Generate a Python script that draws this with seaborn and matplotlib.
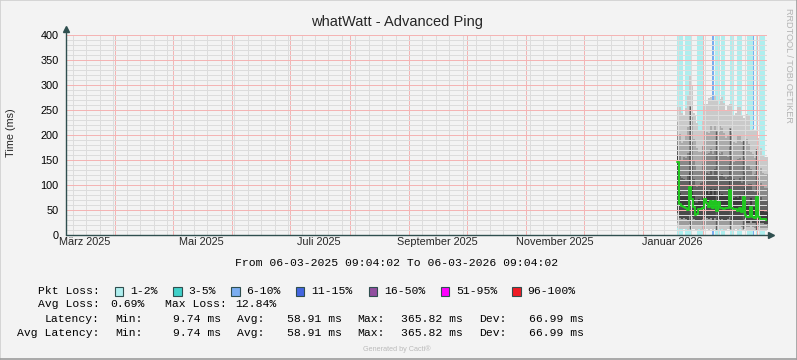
import numpy as np
import pandas as pd
import matplotlib
matplotlib.use("Agg")
import matplotlib.pyplot as plt
import matplotlib.dates as mdates
from matplotlib.ticker import MultipleLocator, NullFormatter
from matplotlib.patches import Rectangle
from matplotlib.lines import Line2D
import seaborn as sns

sns.set_style("white")
plt.rcParams['font.family'] = ['Liberation Sans', 'DejaVu Sans']

W, H = 797, 360
BG = '#F3F3F3'
AXC = '#2F4F4F'

t_start = pd.Timestamp('2025-03-06 09:04:02')
t_end = pd.Timestamp('2026-03-06 09:04:02')
first_sample = pd.Timestamp('2026-01-18 16:00')

# daily smokeping values (ms)
median = [146, 62, 58, 57, 55, 50, 97, 72, 56, 40, 42, 53, 52, 55, 72, 64, 56, 68, 55, 68,
          49, 66, 55, 55, 52, 54, 55, 90, 55, 52, 53, 49, 54, 46, 76, 40, 37, 36, 56, 36,
          35, 76, 36, 33, 33, 32, 31, 32]
smoke_top = [257, 257, 245, 240, 255, 280, 320, 300, 245, 240, 225, 210, 210, 230, 262, 263, 275, 277, 270, 280,
             270, 262, 272, 277, 265, 250, 258, 263, 262, 240, 245, 257, 257, 240, 235, 245, 243, 240, 210, 212,
             210, 210, 195, 175, 160, 157, 157, 157]
smoke_up4 = [226, 202, 185, 189, 199, 216, 258, 236, 192, 190, 174, 166, 166, 181, 209, 207, 205, 218, 210, 221,
             208, 207, 218, 215, 205, 195, 201, 215, 204, 187, 184, 199, 200, 186, 190, 188, 192, 183, 167, 163,
             155, 172, 150, 135, 124, 122, 122, 122]
smoke_up3 = [201, 160, 151, 156, 155, 165, 208, 186, 150, 140, 128, 131, 131, 142, 167, 163, 165, 172, 162, 168,
             159, 164, 163, 166, 158, 158, 156, 176, 158, 146, 149, 153, 155, 150, 155, 142, 140, 138, 133, 118,
             122, 143, 115, 104, 100, 94, 94, 94]
smoke_up2 = [179, 120, 114, 112, 110, 119, 164, 140, 113, 100, 97, 100, 104, 107, 129, 124, 122, 131, 119, 132,
             115, 118, 120, 122, 116, 113, 116, 142, 117, 112, 111, 111, 115, 104, 124, 101, 99, 102, 102, 89,
             87, 116, 84, 76, 71, 70, 69, 70]
smoke_up1 = [159, 85, 80, 79, 79, 78, 124, 99, 79, 64, 64, 72, 71, 76, 95, 88, 82, 93, 81, 93,
             76, 90, 81, 82, 78, 78, 79, 111, 80, 75, 76, 74, 78, 69, 95, 65, 62, 60, 74, 57,
             56, 92, 55, 50, 48, 47, 46, 47]
smoke_lo1 = [45, 35, 33, 34, 32, 30, 38, 36, 32, 28, 28, 31, 30, 32, 36, 34, 32, 35, 31, 34,
             30, 33, 31, 32, 30, 31, 32, 36, 31, 30, 31, 29, 31, 28, 33, 26, 25, 25, 29, 25,
             24, 30, 25, 24, 24, 23, 23, 23]
smoke_lo2 = [24, 21, 20, 21, 20, 19, 22, 21, 20, 18, 18, 20, 19, 20, 21, 20, 19, 21, 19, 20,
             18, 20, 19, 19, 18, 19, 19, 21, 19, 18, 19, 18, 19, 17, 19, 16, 16, 16, 18, 16,
             15, 18, 16, 15, 15, 15, 15, 15]
smoke_min = [14, 12, 12, 13, 12, 11, 13, 12, 12, 11, 10, 12, 11, 12, 13, 12, 11, 12, 11, 12,
             11, 12, 11, 12, 11, 11, 12, 13, 11, 11, 12, 11, 12, 10, 12, 10, 10, 10, 11, 10,
             10, 11, 10, 10, 10, 10, 10, 10]

# weekly full-range smoke columns (days after first sample)
spike_days = [6.6, 13.5, 20.4, 27.3, 34.2, 41.2]

# packet loss periods (days after first sample) and loss class index
loss_start = [-0.3, 1.6, 3.9, 10.1, 17.9, 18.8, 19.5, 22.8, 27.2, 31.0, 36.3, 39.6, 40.9, 43.0]
loss_end = [1.4, 3.1, 7.8, 13.6, 18.4, 19.3, 22.0, 25.0, 29.7, 33.6, 39.5, 40.1, 42.0, 45.8]
loss_class = [0, 0, 0, 0, 2, 2, 0, 0, 0, 0, 0, 2, 0, 0]

loss_labels = ['1-2%', '3-5%', '6-10%', '11-15%', '16-50%', '51-95%', '96-100%']
loss_colors = ['#AEEEEE', '#3FD0C8', '#7AADF0', '#4466E0', '#91509F', '#FF00FF', '#EE1C25']

month_labels = ['März 2025', 'Mai 2025', 'Juli 2025', 'September 2025', 'November 2025', 'Januar 2026']
month_label_dates = ['2025-03-16', '2025-05-16', '2025-07-16', '2025-09-16', '2025-11-16', '2026-01-16']

avg_loss, max_loss = 0.69, 12.84
lat_min, lat_avg, lat_max, lat_dev = 9.74, 58.91, 365.82, 66.99

df = pd.DataFrame({
    'time': pd.date_range(first_sample, periods=len(median), freq='D'),
    'median': median, 'top': smoke_top, 'up4': smoke_up4, 'up3': smoke_up3,
    'up2': smoke_up2, 'up1': smoke_up1, 'lo1': smoke_lo1, 'lo2': smoke_lo2,
    'min': smoke_min,
})


def px(x, y):
    return x / W, 1 - y / H


fig = plt.figure(figsize=(W / 100, H / 100), dpi=100, facecolor=BG)
ax = fig.add_axes([66 / W, 1 - 235 / H, 701 / W, 200 / H])
ax.set_facecolor(BG)

# packet loss bars behind the smoke
for s, e, c in zip(loss_start, loss_end, loss_class):
    ax.axvspan(first_sample + pd.Timedelta(days=s), first_sample + pd.Timedelta(days=e),
               color=loss_colors[c], lw=0, zorder=0.5)

# smoke bands from bottom to top
bands = [('min', 'lo2', '#C8C8C8'), ('lo2', 'lo1', '#9C9C9C'), ('lo1', 'median', '#4A4A4A'),
         ('median', 'up1', '#3C3C3C'), ('up1', 'up2', '#626262'), ('up2', 'up3', '#888888'),
         ('up3', 'up4', '#ABABAB'), ('up4', 'top', '#CACACA')]
for lo, hi, col in bands:
    ax.fill_between(df['time'], df[lo], df[hi], step='post', color=col, lw=0, zorder=1)

# dark weekly columns through the smoke
for d in spike_days:
    i = int(d)
    ax.vlines(first_sample + pd.Timedelta(days=d), smoke_min[i], smoke_up4[i],
              color='#606060', lw=1.0, zorder=1.5)

sns.lineplot(data=df, x='time', y='median', ax=ax, color='#1FC81F', lw=1.4,
             drawstyle='steps-post', zorder=3)

ax.set_xlim(t_start, t_end)
ax.set_ylim(0, 400)
ax.set_xlabel('')
ax.set_ylabel('')

ax.xaxis.set_major_locator(mdates.MonthLocator())
ax.xaxis.set_minor_locator(mdates.WeekdayLocator(byweekday=mdates.MO))
ax.xaxis.set_major_formatter(NullFormatter())
ax.yaxis.set_major_locator(MultipleLocator(50))
ax.yaxis.set_minor_locator(MultipleLocator(10))
ax.set_axisbelow(False)
ax.grid(which='minor', color='#DCDCDC', ls=(0, (1, 1)), lw=0.72, antialiased=False)
ax.grid(which='major', color='#F4B4B4', ls=(0, (1, 1)), lw=0.72, antialiased=False)
ax.tick_params(axis='x', which='both', length=2, color='#E08080', labelbottom=False)
ax.tick_params(axis='y', which='major', length=2, color=AXC, pad=3.5, labelsize=7.8, labelcolor='#000000')
ax.tick_params(axis='y', which='minor', length=0)
for sp in ax.spines.values():
    sp.set_visible(False)

# axis lines with arrow heads
ax.plot([0, 0], [0, 1.03], transform=ax.transAxes, color=AXC, lw=1, clip_on=False, zorder=6)
ax.plot([0], [1.03], transform=ax.transAxes, marker='^', ms=4, color=AXC, clip_on=False, zorder=6)
ax.plot([0, 1.006], [0, 0], transform=ax.transAxes, color=AXC, lw=1, clip_on=False, zorder=6)
ax.plot([1.006], [0], transform=ax.transAxes, marker='>', ms=4, color=AXC, clip_on=False, zorder=6)

for lab, d in zip(month_labels, month_label_dates):
    ax.text(mdates.date2num(pd.Timestamp(d).to_pydatetime()), -0.036, lab,
            transform=ax.get_xaxis_transform(), ha='center', va='center', fontsize=7.8)

fig.text(*px(397, 22), 'whatWatt - Advanced Ping', ha='center', va='center', fontsize=10.5)
fig.text(*px(11, 133), 'Time (ms)', ha='center', va='center', rotation=90, fontsize=7.8)
fig.text(*px(789, 65), 'RRDTOOL / TOBI OETIKER', ha='center', va='center', rotation=270,
         fontsize=6.6, color='#B4B4B4')
fig.text(*px(397, 349), 'Generated by Cacti®', ha='center', va='center', fontsize=5.2, color='#BBBBBB')

mono = dict(family='Liberation Mono', fontsize=8.2, va='center', color='#000000')
fig.text(*px(397, 263), 'From 06-03-2025 09:04:02 To 06-03-2026 09:04:02', ha='center', **mono)

# legend row 1: loss classes
fig.text(*px(99.5, 291.3), 'Pkt Loss:', ha='right', **mono)
sq_x = [115, 173.3, 231.3, 296, 368.7, 440.7, 512.3]
for x0, lab, col in zip(sq_x, loss_labels, loss_colors):
    fig.add_artist(Rectangle(px(x0, 296), 8.4 / W, 8.6 / H, transform=fig.transFigure,
                             facecolor=col, edgecolor=AXC, lw=0.8))
    fig.text(*px(x0 + 15.2, 291.3), lab, ha='left', **mono)

# legend row 2: loss summary
fig.text(*px(99.5, 304.3), 'Avg Loss:', ha='right', **mono)
fig.text(*px(110, 304.3), f'{avg_loss:.2f}%', ha='left', **mono)
fig.text(*px(165, 304.3), 'Max Loss:', ha='left', **mono)
fig.text(*px(235.3, 304.3), f'{max_loss:.2f}%', ha='left', **mono)

# legend rows 3-4: latency
for y, name in [(318.8, 'Latency:'), (332.6, 'Avg Latency:')]:
    fig.text(*px(99.5, y), name, ha='right', **mono)
    fig.text(*px(115.7, y), 'Min:', ha='left', **mono)
    fig.text(*px(173.3, y), f'{lat_min:.2f} ms', ha='left', **mono)
    fig.text(*px(237, y), 'Avg:', ha='left', **mono)
    fig.text(*px(286.7, y), f'{lat_avg:.2f} ms', ha='left', **mono)
    fig.text(*px(357.7, y), 'Max:', ha='left', **mono)
    fig.text(*px(400.7, y), f'{lat_max:.2f} ms', ha='left', **mono)
    fig.text(*px(479, y), 'Dev:', ha='left', **mono)
    fig.text(*px(528.7, y), f'{lat_dev:.2f} ms', ha='left', **mono)

# outer frame
fig.add_artist(Line2D([0, 1], [0.999, 0.999], transform=fig.transFigure, color='#CFCFCF', lw=1.2))
fig.add_artist(Line2D([0.0006, 0.0006], [0, 1], transform=fig.transFigure, color='#CFCFCF', lw=1.2))
fig.add_artist(Line2D([0, 1], [0.0014, 0.0014], transform=fig.transFigure, color='#9C9C9C', lw=1.2))
fig.add_artist(Line2D([0.9994, 0.9994], [0, 1], transform=fig.transFigure, color='#9C9C9C', lw=1.2))

fig.savefig('out.png', dpi=100, facecolor=BG)
